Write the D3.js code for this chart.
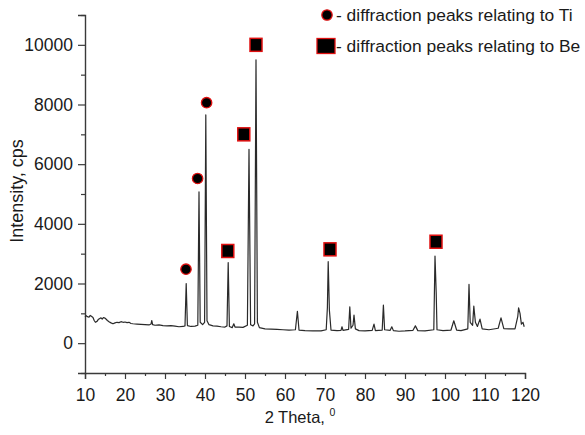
<!DOCTYPE html>
<html>
<head>
<meta charset="utf-8">
<script src="https://cdn.jsdelivr.net/npm/d3@7"></script>
<style>
  body { margin: 0; background: #fff; }
  svg text { font-family: "Liberation Sans", Arial, sans-serif; fill: #1a1a1a; }
</style>
</head>
<body>
<svg id="chart" width="585" height="435"></svg>
<script>
// XRD pattern: [2 theta, intensity]
const pattern = [
  [10.0, 880], [10.3, 920], [10.6, 890], [11.0, 870], [11.3, 930], [11.6, 900],
  [12.0, 860], [12.3, 760], [12.6, 700], [13.0, 730], [13.3, 790], [13.6, 820],
  [14.0, 850], [14.3, 810], [14.6, 860], [15.0, 840], [15.3, 800], [15.6, 760],
  [16.0, 720], [16.5, 680], [17.0, 650], [17.5, 680], [18.0, 700], [18.5, 690],
  [19.0, 720], [19.5, 700], [20.0, 710], [20.5, 690], [21.0, 700], [21.5, 660],
  [22.0, 650], [23.0, 640], [24.0, 630], [25.0, 620], [26.0, 610], [26.5, 640],
  [26.7, 760], [26.9, 620], [27.5, 600], [28.5, 610], [29.5, 590], [30.5, 580],
  [31.5, 590], [32.5, 570], [33.5, 550], [34.5, 560], [35.0, 580], [35.3, 2000],
  [35.6, 590], [36.5, 560], [37.5, 570], [38.2, 600], [38.5, 5070], [38.8, 700],
  [39.4, 620], [39.9, 700], [40.2, 7650], [40.5, 750], [41.0, 620], [42.0, 580],
  [43.0, 570], [44.0, 550], [45.0, 540], [45.5, 580], [45.8, 2700], [46.1, 560],
  [46.8, 520], [47.2, 650], [47.5, 540], [48.5, 540], [49.5, 530], [50.6, 600],
  [51.0, 6500], [51.4, 620], [52.0, 580], [52.4, 650], [52.75, 9500], [53.1, 700],
  [53.6, 520], [55.0, 480], [56.5, 470], [58.0, 460], [59.5, 450], [61.0, 440],
  [62.6, 450], [63.1, 1070], [63.5, 440], [65.0, 420], [67.0, 410], [69.0, 410],
  [70.3, 450], [70.6, 1200], [70.8, 2730], [71.1, 1100], [71.5, 440], [73.0, 420],
  [74.0, 430], [74.25, 550], [74.5, 430], [75.9, 460], [76.2, 1220], [76.5, 500],
  [77.0, 600], [77.25, 940], [77.6, 480], [78.5, 420], [80.0, 410], [81.8, 430],
  [82.25, 640], [82.6, 420], [84.3, 440], [84.6, 1275], [84.9, 450], [86.3, 430],
  [86.7, 550], [87.1, 420], [88.5, 400], [90.0, 410], [92.0, 430], [92.6, 580],
  [93.2, 420], [95.0, 410], [97.2, 450], [97.5, 2920], [97.8, 1700], [98.0, 450],
  [99.5, 420], [101.5, 440], [102.2, 750], [102.9, 440], [104.0, 420], [105.7, 480],
  [106.0, 1970], [106.3, 700], [106.9, 600], [107.2, 1240], [107.6, 700], [108.1, 560],
  [108.75, 805], [109.3, 480], [111.0, 450], [113.3, 500], [114.0, 850], [114.7, 490],
  [116.0, 480], [117.5, 480], [118.2, 900], [118.4, 1185], [118.75, 1000], [119.1, 640],
  [119.5, 700], [119.8, 550]
]

// marker positions
const tiPeaks = [[35.25, 2480], [38.15, 5520], [40.4, 8060]]
const bePeaks = [[45.7, 3090], [49.7, 7000], [52.75, 10000], [71.25, 3145], [97.75, 3400]]

const xMajor = d3.range(10, 121, 10)
const xMinor = d3.range(15, 120, 10)
const yMajor = [0, 2000, 4000, 6000, 8000, 10000]
const yMinor = [-1000, 1000, 3000, 5000, 7000, 9000, 11000]

const legendItems = [
  { shape: 'circle', label: '- diffraction peaks relating to Ti' },
  { shape: 'square', label: '- diffraction peaks relating to Be' }
]

const svg = d3.select('#chart')

const x = d3.scaleLinear().domain([10, 120]).range([85, 525])
const y = d3.scaleLinear().domain([-1000, 11000]).range([373, 15])

// axes
const xAxis = svg.append('g').attr('transform', 'translate(0,' + y(-1000) + ')')
xAxis.call(d3.axisBottom(x).tickValues(xMajor).tickSize(6).tickPadding(9.5).tickFormat(d3.format('d')))
xAxis.append('g').call(d3.axisBottom(x).tickValues(xMinor).tickSize(3).tickFormat(''))
  .select('.domain').remove()

const yAxis = svg.append('g').attr('transform', 'translate(' + x(10) + ',0)')
yAxis.call(d3.axisLeft(y).tickValues(yMajor).tickSize(7).tickPadding(5).tickFormat(d3.format('d')))
yAxis.append('g').call(d3.axisLeft(y).tickValues(yMinor).tickSize(4).tickFormat(''))
  .select('.domain').remove()

svg.selectAll('.domain').attr('stroke', '#3a3a3a').attr('stroke-width', 1.4)
svg.selectAll('.tick line').attr('stroke', '#3a3a3a').attr('stroke-width', 1.2)
svg.selectAll('.tick text').style('font-size', '17.5px').attr('fill', '#1a1a1a')

// spectrum
const line = d3.line().x(d => x(d[0])).y(d => y(d[1]))
svg.append('path')
  .datum(pattern)
  .attr('d', line)
  .attr('fill', 'none')
  .attr('stroke', '#2a2a2a')
  .attr('stroke-width', 1.2)
  .attr('stroke-linejoin', 'round')

// peak markers
svg.selectAll('.ti')
  .data(tiPeaks)
  .join('circle')
  .attr('class', 'ti')
  .attr('cx', d => x(d[0]))
  .attr('cy', d => y(d[1]))
  .attr('r', 5.2)
  .attr('fill', '#000')
  .attr('stroke', '#e01010')
  .attr('stroke-width', 1.3)

svg.selectAll('.be')
  .data(bePeaks)
  .join('rect')
  .attr('class', 'be')
  .attr('x', d => x(d[0]) - 6)
  .attr('y', d => y(d[1]) - 6.5)
  .attr('width', 12)
  .attr('height', 13)
  .attr('fill', '#000')
  .attr('stroke', '#e01010')
  .attr('stroke-width', 1.5)

// axis titles
svg.append('text')
  .attr('transform', 'translate(23,191) rotate(-90)')
  .attr('text-anchor', 'middle')
  .style('font-size', '18px')
  .text('Intensity, cps')

const xt = svg.append('text')
  .attr('x', 300)
  .attr('y', 423)
  .attr('text-anchor', 'middle')
  .style('font-size', '16.5px')
xt.append('tspan').text('2 Theta, ')
xt.append('tspan').attr('dy', -7).style('font-size', '10.5px').text('0')

// legend
const legend = svg.selectAll('.legend')
  .data(legendItems)
  .join('g')
  .attr('class', 'legend')
  .attr('transform', (d, i) => 'translate(326,' + (15 + i * 31) + ')')

legend.filter(d => d.shape === 'circle').append('circle')
  .attr('cx', 1)
  .attr('r', 5.2)
  .attr('fill', '#000')
  .attr('stroke', '#e01010')
  .attr('stroke-width', 1.3)

legend.filter(d => d.shape === 'square').append('rect')
  .attr('x', -9)
  .attr('y', -7.5)
  .attr('width', 18)
  .attr('height', 15)
  .attr('fill', '#000')
  .attr('stroke', '#e01010')
  .attr('stroke-width', 1.3)

legend.append('text')
  .attr('x', 10)
  .attr('dy', '0.35em')
  .style('font-size', '17.4px')
  .text(d => d.label)
</script>
</body>
</html>
